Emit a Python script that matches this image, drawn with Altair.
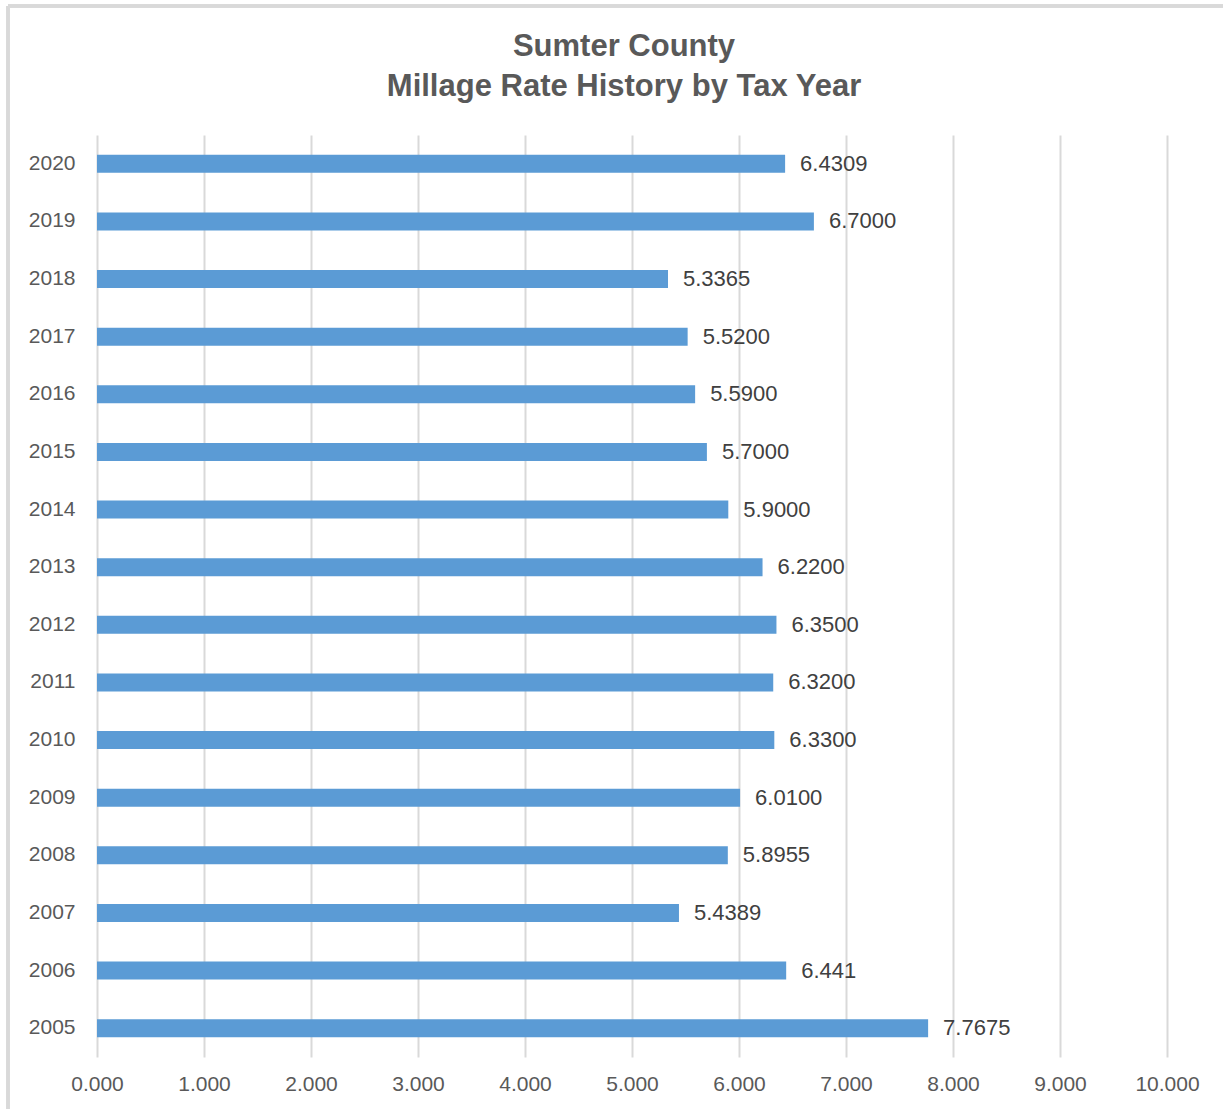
import altair as alt
import pandas as pd

years = ["2020", "2019", "2018", "2017", "2016", "2015", "2014", "2013",
         "2012", "2011", "2010", "2009", "2008", "2007", "2006", "2005"]
rates = [6.4309, 6.7000, 5.3365, 5.5200, 5.5900, 5.7000, 5.9000, 6.2200,
         6.3500, 6.3200, 6.3300, 6.0100, 5.8955, 5.4389, 6.441, 7.7675]
labels = ["6.4309", "6.7000", "5.3365", "5.5200", "5.5900", "5.7000", "5.9000", "6.2200",
          "6.3500", "6.3200", "6.3300", "6.0100", "5.8955", "5.4389", "6.441", "7.7675"]
title_lines = ["Sumter County", "Millage Rate History by Tax Year"]

df = pd.DataFrame({"year": years, "rate": rates, "label": labels})

FONT = "Liberation Sans"

x_enc = alt.X("rate:Q",
              scale=alt.Scale(domain=[0, 10], nice=False, zero=True),
              axis=alt.Axis(values=list(range(0, 11)), format=".3f", title=None,
                            grid=True, gridColor="#d9d9d9", gridWidth=2,
                            ticks=False, domain=False, labelFont=FONT,
                            labelFlush=False, labelOverlap=False,
                            labelFontSize=21, labelColor="#595959", labelPadding=16))
y_enc = alt.Y("year:N", sort=years,
              scale=alt.Scale(paddingInner=0, paddingOuter=0),
              axis=alt.Axis(title=None, ticks=False, domain=False, grid=False,
                            labelFont=FONT, labelFontSize=21, labelColor="#595959",
                            labelPadding=22))

base = alt.Chart(df)

bars = base.mark_bar(size=18, color="#5B9BD5").encode(x=x_enc, y=y_enc)

text = base.mark_text(align="left", baseline="middle", dx=15, font=FONT,
                      fontSize=22, color="#404040").encode(
    x="rate:Q", y=alt.Y("year:N", sort=years), text="label:N")

border_top = base.mark_rule(color="#d9d9d9", strokeWidth=3).encode(
    x=alt.value(-89), x2=alt.value(1200), y=alt.value(-129))
border_left = base.mark_rule(color="#d9d9d9", strokeWidth=3).encode(
    x=alt.value(-89), y=alt.value(-129), y2=alt.value(1100))

chart = alt.layer(bars, text, border_top, border_left).properties(
    width=1070, height=922,
    padding={"left": 97, "top": 135, "right": 56, "bottom": 52},
    autosize="none",
    title=alt.TitleParams(text=title_lines, font=FONT, fontSize=31, fontWeight="bold",
                          color="#595959", anchor="middle", lineHeight=40,
                          offset=-98, dx=-8),
).configure(background="white", view=alt.ViewConfig(stroke=None))

chart.save("out.html", embed_options={"renderer": "svg", "actions": False})
